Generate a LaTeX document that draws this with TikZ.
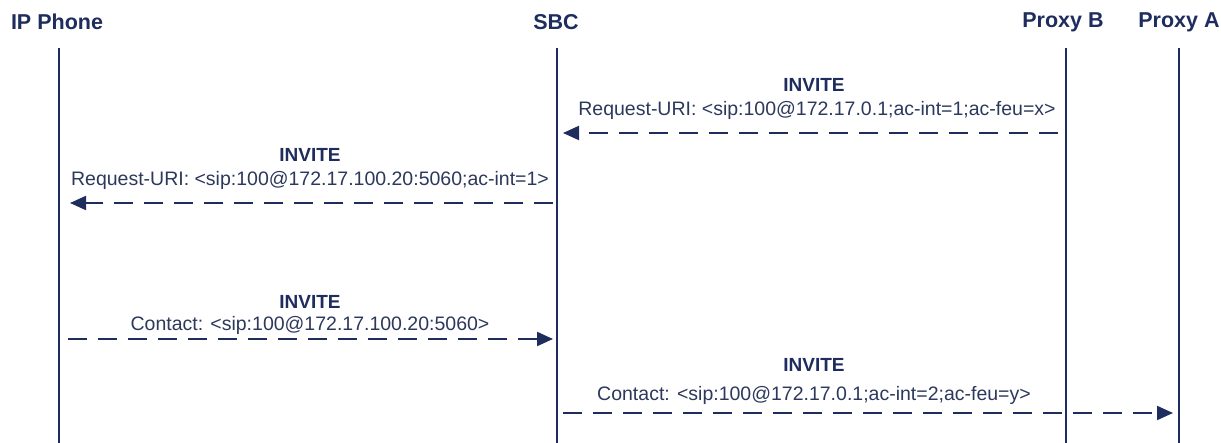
\documentclass[tikz,border=0pt]{standalone}
\usepackage{fontspec}
\setmainfont{Liberation Sans}
\usetikzlibrary{arrows.meta}
\definecolor{navy}{RGB}{30,44,94}
\definecolor{navytext}{RGB}{44,56,92}

\begin{document}
\begin{tikzpicture}[x=1pt, y=-1pt,
  party/.style={font=\fontsize{21.5}{24}\selectfont\bfseries, text=navy, inner sep=0pt},
  msg/.style={font=\fontsize{19}{22}\selectfont\bfseries, text=navy, inner sep=0pt},
  detail/.style={font=\fontsize{19.5}{22}\selectfont, text=navytext, inner sep=0pt},
  life/.style={navy, line width=1.6pt},
  ar/.style={-{Triangle[length=16pt, width=14pt]}, navy, line width=2pt,
             dash pattern=on 19pt off 11pt}]
\useasboundingbox (0,0) rectangle (1221,443);
% parties and lifelines
\node[party] (ip) at (57,22) {IP Phone};
\node[party] (sbc) at (556,22) {SBC};
\node[party] (pb) at (1063,22) {Proxy B};
\node[party] (pa) at (1179,22) {Proxy A};
\foreach \p/\x in {ip/59, sbc/557, pb/1066, pa/1179} {
  \coordinate (\p top) at (\x,48);
  \coordinate (\p bot) at (\x,443);
  \draw[life] (\p top) -- (\p bot);
}
% message 1: Proxy B -> SBC
\coordinate (m1a) at (1058,133);
\coordinate (m1b) at (563,133);
\node[msg] (m1) at (814,85) {INVITE};
\node[detail] (m1d) at (817,110) {Request-URI: <sip:100@172.17.0.1;ac-int=1;ac-feu=x>};
\draw[ar] (m1a) -- (m1b);
% message 2: SBC -> IP Phone
\coordinate (m2a) at (553,203);
\coordinate (m2b) at (70,203);
\node[msg] (m2) at (310,155) {INVITE};
\node[detail] (m2d) at (310,180) {Request-URI: <sip:100@172.17.100.20:5060;ac-int=1>};
\draw[ar] (m2a) -- (m2b);
% message 3: IP Phone -> SBC
\coordinate (m3a) at (68,339);
\coordinate (m3b) at (553,339);
\node[msg] (m3) at (310,302) {INVITE};
\node[detail] (m3d) at (310,325) {Contact: <sip:100@172.17.100.20:5060>};
\draw[ar] (m3a) -- (m3b);
% message 4: SBC -> Proxy A
\coordinate (m4a) at (563,413);
\coordinate (m4b) at (1173,413);
\node[msg] (m4) at (814,365) {INVITE};
\node[detail] (m4d) at (814,395) {Contact: <sip:100@172.17.0.1;ac-int=2;ac-feu=y>};
\draw[ar] (m4a) -- (m4b);
\end{tikzpicture}
\end{document}
